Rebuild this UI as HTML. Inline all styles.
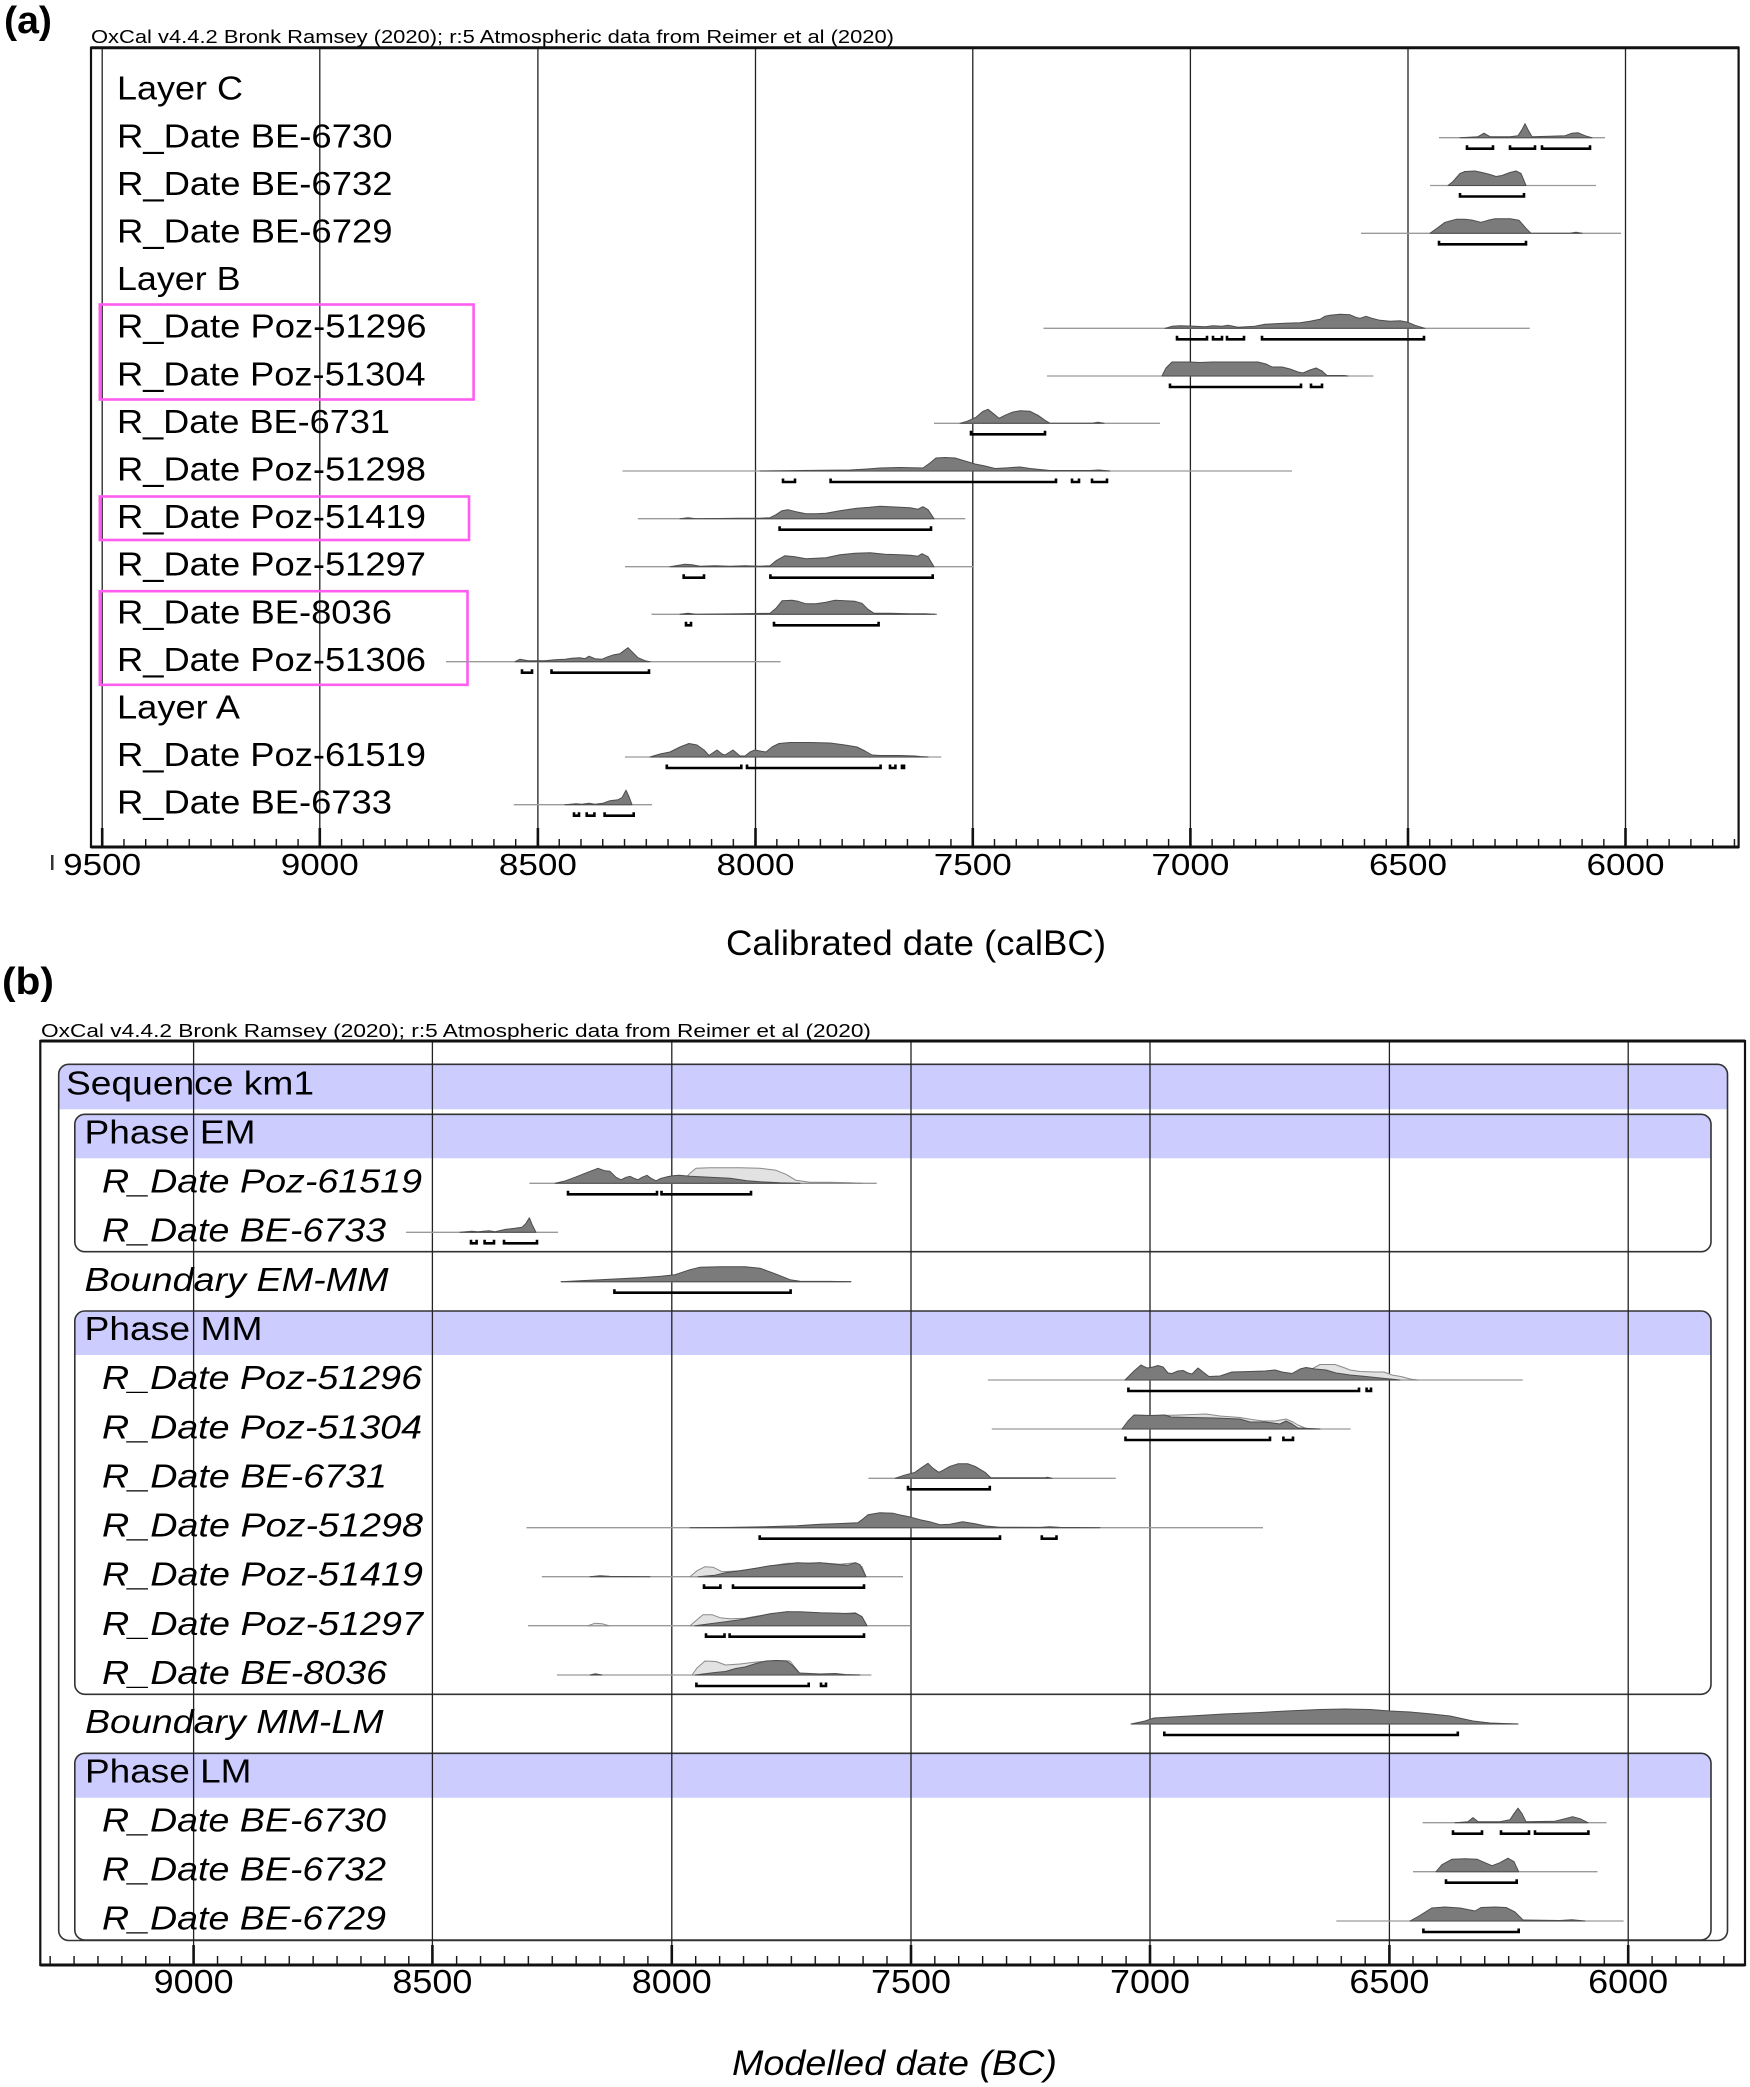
<!DOCTYPE html>
<html><head><meta charset="utf-8"><style>
html,body{margin:0;padding:0;background:#fff;}
svg{display:block;}
text{font-family:"Liberation Sans",Arial,sans-serif;fill:#000;}
.bl{stroke:#9a9a9a;stroke-width:1.3;fill:none}
.d{fill:#7b7b7b;stroke:#4d4d4d;stroke-width:1;stroke-linejoin:round}
.l{fill:#e2e2e2;stroke:#8a8a8a;stroke-width:1;stroke-linejoin:round}
.br{fill:none;stroke:#000;stroke-width:2.6}
.g{stroke:#222;stroke-width:1.3}
.mj{stroke:#111;stroke-width:2.6}
.la{font-size:33px}
.lb{font-size:33px}
.it{font-style:italic}
.pk{fill:none;stroke:#ff5cf0;stroke-width:2.6}
.bx{fill:none;stroke:#333;stroke-width:1.6}
.blue{fill:#ccccff}
</style></head><body>
<svg width="1750" height="2087" viewBox="0 0 1750 2087" xmlns="http://www.w3.org/2000/svg">
<defs>
<pattern id="ta" x="101.5" y="0" width="21.763" height="2087" patternUnits="userSpaceOnUse"><rect x="0" y="0" width="1.4" height="2087" fill="#111"/></pattern>
<pattern id="tb" x="192.9" y="0" width="23.91" height="2087" patternUnits="userSpaceOnUse"><rect x="0" y="0" width="1.4" height="2087" fill="#111"/></pattern>
</defs>

<!-- ================= PANEL A ================= -->
<text x="4" y="33" font-size="38" font-weight="bold" textLength="48" lengthAdjust="spacingAndGlyphs">(a)</text>
<text x="91" y="43" font-size="18" textLength="803" lengthAdjust="spacingAndGlyphs">OxCal v4.4.2 Bronk Ramsey (2020); r:5 Atmospheric data from Reimer et al (2020)</text>

<!-- grid lines -->
<g class="g">
<line x1="102.2" y1="48" x2="102.2" y2="847"/>
<line x1="319.8" y1="48" x2="319.8" y2="847"/>
<line x1="537.9" y1="48" x2="537.9" y2="847"/>
<line x1="755.5" y1="48" x2="755.5" y2="847"/>
<line x1="972.8" y1="48" x2="972.8" y2="847"/>
<line x1="1190.4" y1="48" x2="1190.4" y2="847"/>
<line x1="1408" y1="48" x2="1408" y2="847"/>
<line x1="1625.5" y1="48" x2="1625.5" y2="847"/>
</g>
<!-- ticks -->
<rect x="92" y="839" width="1646" height="8" fill="url(#ta)"/>
<g class="mj">
<line x1="102.2" y1="828" x2="102.2" y2="847"/>
<line x1="319.8" y1="828" x2="319.8" y2="847"/>
<line x1="537.9" y1="828" x2="537.9" y2="847"/>
<line x1="755.5" y1="828" x2="755.5" y2="847"/>
<line x1="972.8" y1="828" x2="972.8" y2="847"/>
<line x1="1190.4" y1="828" x2="1190.4" y2="847"/>
<line x1="1408" y1="828" x2="1408" y2="847"/>
<line x1="1625.5" y1="828" x2="1625.5" y2="847"/>
</g>
<!-- frame -->
<rect x="91" y="47.7" width="1647.6" height="799.3" fill="none" stroke="#111" stroke-width="2.2"/>
<line x1="91" y1="47.7" x2="1739" y2="47.7" stroke="#111" stroke-width="3"/>
<line x1="91" y1="847" x2="1739" y2="847" stroke="#111" stroke-width="3"/>

<!-- axis labels -->
<g font-size="31" text-anchor="middle">
<text x="102.2" y="875" textLength="78" lengthAdjust="spacingAndGlyphs">9500</text>
<text x="319.8" y="875" textLength="78" lengthAdjust="spacingAndGlyphs">9000</text>
<text x="537.9" y="875" textLength="78" lengthAdjust="spacingAndGlyphs">8500</text>
<text x="755.5" y="875" textLength="78" lengthAdjust="spacingAndGlyphs">8000</text>
<text x="972.8" y="875" textLength="78" lengthAdjust="spacingAndGlyphs">7500</text>
<text x="1190.4" y="875" textLength="78" lengthAdjust="spacingAndGlyphs">7000</text>
<text x="1408" y="875" textLength="78" lengthAdjust="spacingAndGlyphs">6500</text>
<text x="1625.5" y="875" textLength="78" lengthAdjust="spacingAndGlyphs">6000</text>
</g>
<rect x="51" y="855" width="2.5" height="15" fill="#333"/>
<text x="726" y="955" font-size="35" textLength="380" lengthAdjust="spacingAndGlyphs">Calibrated date (calBC)</text>

<!-- row labels A -->
<g class="la">
<text x="117" y="99.7" textLength="126" lengthAdjust="spacingAndGlyphs">Layer C</text>
<text x="117" y="147.3" textLength="275.5" lengthAdjust="spacingAndGlyphs">R_Date BE-6730</text>
<text x="117" y="194.9" textLength="275.5" lengthAdjust="spacingAndGlyphs">R_Date BE-6732</text>
<text x="117" y="242.5" textLength="275.5" lengthAdjust="spacingAndGlyphs">R_Date BE-6729</text>
<text x="117" y="290.1" textLength="123.5" lengthAdjust="spacingAndGlyphs">Layer B</text>
<text x="117" y="337.7" textLength="309.5" lengthAdjust="spacingAndGlyphs">R_Date Poz-51296</text>
<text x="117" y="385.3" textLength="308.5" lengthAdjust="spacingAndGlyphs">R_Date Poz-51304</text>
<text x="117" y="432.9" textLength="273" lengthAdjust="spacingAndGlyphs">R_Date BE-6731</text>
<text x="117" y="480.5" textLength="309" lengthAdjust="spacingAndGlyphs">R_Date Poz-51298</text>
<text x="117" y="528.1" textLength="309" lengthAdjust="spacingAndGlyphs">R_Date Poz-51419</text>
<text x="117" y="575.7" textLength="309" lengthAdjust="spacingAndGlyphs">R_Date Poz-51297</text>
<text x="117" y="623.3" textLength="275" lengthAdjust="spacingAndGlyphs">R_Date BE-8036</text>
<text x="117" y="670.9" textLength="309" lengthAdjust="spacingAndGlyphs">R_Date Poz-51306</text>
<text x="117" y="718.5" textLength="123" lengthAdjust="spacingAndGlyphs">Layer A</text>
<text x="117" y="766.1" textLength="309" lengthAdjust="spacingAndGlyphs">R_Date Poz-61519</text>
<text x="117" y="813.7" textLength="275" lengthAdjust="spacingAndGlyphs">R_Date BE-6733</text>
</g>

<!-- pink boxes -->
<rect class="pk" x="99.8" y="304.5" width="373.8" height="95"/>
<rect class="pk" x="99.8" y="496.5" width="369.2" height="43.5"/>
<rect class="pk" x="99.8" y="591.2" width="367.7" height="93.6"/>

<!-- distributions A -->
<g transform="translate(0,137.7)">
<line class="bl" x1="1439" y1="0" x2="1605" y2="0"/>
<path class="d" d="M1460,0 L1478,-1 1484,-4.5 1490,-1 1510,-1 1518,-2 1522,-8 1525,-14 1528,-8 1532,-1 1550,-1.5 1565,-2 1572,-4.5 1578,-5 1585,-2 1592,0 Z"/>
<path class="br" d="M1467,7.5 V11 H1493 V7.5 M1510,7.5 V11 H1535 V7.5 M1542,7.5 V11 H1590 V7.5"/>
</g>
<g transform="translate(0,185.5)">
<line class="bl" x1="1430" y1="0" x2="1596" y2="0"/>
<path class="d" d="M1448,0 L1453,-4 1460,-12 1465,-14 1475,-14.5 1482,-13 1490,-11 1496,-9 1502,-10 1510,-13 1516,-14.5 1521,-12 1526,0 Z"/>
<path class="br" d="M1460,7.5 V11 H1524 V7.5"/>
</g>
<g transform="translate(0,233.3)">
<line class="bl" x1="1361" y1="0" x2="1621" y2="0"/>
<path class="d" d="M1430,0 L1437,-5 1445,-11 1456,-14 1465,-14 1473,-13 1481,-11 1488,-13 1495,-14.5 1510,-14.5 1519,-13 1526,-5 1531,0 L1570,0 1576,-1 1582,0 Z"/>
<path class="br" d="M1439,7.5 V11 H1526 V7.5"/>
</g>
<g transform="translate(0,328.3)">
<line class="bl" x1="1043.5" y1="0" x2="1529.7" y2="0"/>
<path class="d" d="M1165,0 L1172,-2 1180,-2.5 1195,-2 1205,-1.5 1213,-2.5 1222,-2 1228,-3 1238,-1 1255,-2 1265,-4 1285,-5 1300,-5.5 1310,-7 1320,-9 1325,-12 1330,-13 1340,-14 1350,-13.5 1356,-11 1360,-10 1366,-12 1372,-10 1380,-8 1390,-7 1400,-7.5 1408,-6 1415,-3 1425,0 Z"/>
<path class="br" d="M1177,7.5 V11 H1207 V7.5 M1213,7.5 V11 H1222 V7.5 M1227,7.5 V11 H1244 V7.5 M1262,7.5 V11 H1424 V7.5"/>
</g>
<g transform="translate(0,376)">
<line class="bl" x1="1047" y1="0" x2="1373.5" y2="0"/>
<path class="d" d="M1162,0 L1166,-8 1172,-14 1190,-14 1200,-13.5 1212,-14 1240,-14 1258,-14 1266,-12 1272,-9 1282,-9 1290,-7 1298,-4 1303,-3 1310,-6 1316,-8 1322,-5 1327,-0.5 1344,-0.5 1348,0 Z"/>
<path class="br" d="M1170,7.5 V11 H1301 V7.5 M1311,7.5 V11 H1322 V7.5"/>
</g>
<g transform="translate(0,423.3)">
<line class="bl" x1="934" y1="0" x2="1160" y2="0"/>
<path class="d" d="M960,0 L967,-2 976,-6 983,-12 988,-14 993,-10 999,-5 1005,-8 1012,-11 1020,-12.5 1030,-12 1038,-8 1045,-3 1050,0 L1092,0 1098,-1 1104,0 Z"/>
<path class="br" d="M971,7.5 V11 H1045 V7.5"/>
</g>
<g transform="translate(0,471)">
<line class="bl" x1="622.4" y1="0" x2="1292" y2="0"/>
<path class="d" d="M760,0 L800,-0.5 850,-1 867,-2 880,-3 900,-3.5 923,-3 930,-8 936,-13 945,-13.5 955,-13 965,-10 975,-7 985,-5 995,-2.5 1005,-3 1012,-3.5 1020,-4 1030,-2.5 1050,-0.5 1090,-0.5 1099,-1 1110,0 Z"/>
<path class="br" d="M783,7.5 V11 H795 V7.5 M830.6,7.5 V11 H1056 V7.5 M1072,7.5 V11 H1079 V7.5 M1092,7.5 V11 H1107 V7.5"/>
</g>
<g transform="translate(0,518.7)">
<line class="bl" x1="637.8" y1="0" x2="965.3" y2="0"/>
<path class="d" d="M680,0 L688,-1 696,0 L740,-0.5 760,-0.5 770,-1 776,-4 782,-8 788,-9 796,-7 806,-5 816,-5 826,-5.5 840,-8 857,-10.5 870,-11.5 880,-12.5 890,-12 900,-11.5 910,-11 918,-9.5 923,-12 928,-9 934,0 Z"/>
<path class="br" d="M779.6,7.5 V11 H931 V7.5"/>
</g>
<g transform="translate(0,566.7)">
<line class="bl" x1="625" y1="0" x2="973" y2="0"/>
<path class="d" d="M670,0 L685,-2.5 692,-2 700,-0.5 715,-1 730,-0.5 745,-1 760,-0.5 770,-1 776,-6 785,-11 795,-10 806,-8 816,-8.5 826,-9 840,-12 855,-13.5 870,-14 885,-12.5 900,-12 910,-11.5 918,-10.5 922,-13 928,-10 934,0 Z"/>
<path class="br" d="M683.7,7.5 V11 H704 V7.5 M770.4,7.5 V11 H932.7 V7.5"/>
</g>
<g transform="translate(0,614.3)">
<line class="bl" x1="651.5" y1="0" x2="937" y2="0"/>
<path class="d" d="M680,0 L688,-1 696,0 L740,-0.5 770,-1 776,-6 782,-13.5 792,-14 798,-13 806,-10.5 816,-10.5 826,-12 835,-14 845,-13.5 855,-13 862,-11 868,-5 874,-1 890,-1 910,-0.5 925,-0.5 935,0 Z"/>
<path class="br" d="M686,7.5 V11 H691 V7.5 M774,7.5 V11 H878.6 V7.5"/>
</g>
<g transform="translate(0,661.7)">
<line class="bl" x1="446" y1="0" x2="780.6" y2="0"/>
<path class="d" d="M515,0 L520,-2.5 528,-1 545,-1 555,-2 565,-2.5 572,-3.5 580,-4 585,-3 589,-5.5 595,-3 602,-2.5 608,-5 614,-7 620,-8 624,-11 628,-14 632,-10 638,-4 645,-1 650,0 Z"/>
<path class="br" d="M522,7.5 V11 H532 V7.5 M551.5,7.5 V11 H649 V7.5"/>
</g>
<g transform="translate(0,757)">
<line class="bl" x1="625" y1="0" x2="941.3" y2="0"/>
<path class="d" d="M650,0 L660,-3 670,-5 680,-10 689,-13.5 697,-12 704,-7 709,-1.5 717,-7 722,-3 725,-2 733,-7 740,-1 745,-1 750,-5 755,-7 760,-6 766,-5 772,-10 779,-13.5 790,-14.5 810,-14.5 830,-14 845,-12 857,-10 865,-6 872,-2 880,-1.5 900,-1.5 915,-1 920,-0.5 928,0 Z"/>
<path class="br" d="M666.8,7.5 V11 H741.3 V7.5 M747,7.5 V11 H880.6 V7.5 M890,7.5 V11 H895.4 V7.5 M902,7.5 V11 H904 V7.5"/>
</g>
<g transform="translate(0,804.7)">
<line class="bl" x1="513.8" y1="0" x2="652" y2="0"/>
<path class="d" d="M565,0 L576,-1 582,-0.5 589,-1.5 595,-0.5 603,-1.5 610,-4 618,-5 622,-7 626,-14.5 629,-8 632,0 Z"/>
<path class="br" d="M574,7.5 V11 H579 V7.5 M586.7,7.5 V11 H594.4 V7.5 M604.6,7.5 V11 H633.7 V7.5"/>
</g>

<!-- ================= PANEL B ================= -->
<text x="2" y="994" font-size="38" font-weight="bold" textLength="52" lengthAdjust="spacingAndGlyphs">(b)</text>
<text x="41" y="1037" font-size="18" textLength="830" lengthAdjust="spacingAndGlyphs">OxCal v4.4.2 Bronk Ramsey (2020); r:5 Atmospheric data from Reimer et al (2020)</text>

<!-- blue bands -->
<path class="blue" d="M58.7,1109.3 V1074.3 Q58.7,1064.3 68.7,1064.3 H1717.5 Q1727.5,1064.3 1727.5,1074.3 V1109.3 Z"/>
<path class="blue" d="M74.8,1158.3 V1124.3 Q74.8,1114.3 84.8,1114.3 H1701 Q1711,1114.3 1711,1124.3 V1158.3 Z"/>
<path class="blue" d="M74.8,1355 V1321 Q74.8,1311 84.8,1311 H1701 Q1711,1311 1711,1321 V1355 Z"/>
<path class="blue" d="M74.8,1797.7 V1763.3 Q74.8,1753.3 84.8,1753.3 H1701 Q1711,1753.3 1711,1763.3 V1797.7 Z"/>
<!-- box outlines -->
<rect class="bx" x="58.7" y="1064.3" width="1668.8" height="876.2" rx="10" ry="10"/>
<rect class="bx" x="74.8" y="1114.3" width="1636.2" height="137.4" rx="10" ry="10"/>
<rect class="bx" x="74.8" y="1311" width="1636.2" height="383.3" rx="10" ry="10"/>
<rect class="bx" x="74.8" y="1753.3" width="1636.2" height="186.7" rx="10" ry="10"/>

<!-- grid lines B -->
<g class="g">
<line x1="193.6" y1="1041" x2="193.6" y2="1965"/>
<line x1="432.4" y1="1041" x2="432.4" y2="1965"/>
<line x1="671.8" y1="1041" x2="671.8" y2="1965"/>
<line x1="911" y1="1041" x2="911" y2="1965"/>
<line x1="1150" y1="1041" x2="1150" y2="1965"/>
<line x1="1389.4" y1="1041" x2="1389.4" y2="1965"/>
<line x1="1628.2" y1="1041" x2="1628.2" y2="1965"/>
</g>
<rect x="41" y="1956" width="1703" height="9" fill="url(#tb)"/>
<g class="mj">
<line x1="193.6" y1="1945" x2="193.6" y2="1965"/>
<line x1="432.4" y1="1945" x2="432.4" y2="1965"/>
<line x1="671.8" y1="1945" x2="671.8" y2="1965"/>
<line x1="911" y1="1945" x2="911" y2="1965"/>
<line x1="1150" y1="1945" x2="1150" y2="1965"/>
<line x1="1389.4" y1="1945" x2="1389.4" y2="1965"/>
<line x1="1628.2" y1="1945" x2="1628.2" y2="1965"/>
</g>
<rect x="40.3" y="1041" width="1704.7" height="924" fill="none" stroke="#111" stroke-width="2.2"/>
<line x1="40.3" y1="1041" x2="1745" y2="1041" stroke="#111" stroke-width="3"/>
<line x1="40.3" y1="1965" x2="1745" y2="1965" stroke="#111" stroke-width="3"/>

<g font-size="33" text-anchor="middle">
<text x="193.6" y="1993" textLength="80" lengthAdjust="spacingAndGlyphs">9000</text>
<text x="432.4" y="1993" textLength="80" lengthAdjust="spacingAndGlyphs">8500</text>
<text x="671.8" y="1993" textLength="80" lengthAdjust="spacingAndGlyphs">8000</text>
<text x="911" y="1993" textLength="80" lengthAdjust="spacingAndGlyphs">7500</text>
<text x="1150" y="1993" textLength="80" lengthAdjust="spacingAndGlyphs">7000</text>
<text x="1389.4" y="1993" textLength="80" lengthAdjust="spacingAndGlyphs">6500</text>
<text x="1628.2" y="1993" textLength="80" lengthAdjust="spacingAndGlyphs">6000</text>
</g>
<text x="732" y="2075" font-size="35" font-style="italic" textLength="325" lengthAdjust="spacingAndGlyphs">Modelled date (BC)</text>

<!-- row labels B -->
<g class="lb">
<text x="66" y="1094.3" textLength="248" lengthAdjust="spacingAndGlyphs">Sequence km1</text>
<text x="84.5" y="1143.4" textLength="171" lengthAdjust="spacingAndGlyphs">Phase EM</text>
<text class="it" x="102" y="1192.6" textLength="320" lengthAdjust="spacingAndGlyphs">R_Date Poz-61519</text>
<text class="it" x="102" y="1241.7" textLength="284" lengthAdjust="spacingAndGlyphs">R_Date BE-6733</text>
<text class="it" x="84.5" y="1290.9" textLength="304" lengthAdjust="spacingAndGlyphs">Boundary EM-MM</text>
<text x="84.5" y="1340" textLength="178" lengthAdjust="spacingAndGlyphs">Phase MM</text>
<text class="it" x="102" y="1389.1" textLength="320" lengthAdjust="spacingAndGlyphs">R_Date Poz-51296</text>
<text class="it" x="102" y="1438.3" textLength="320" lengthAdjust="spacingAndGlyphs">R_Date Poz-51304</text>
<text class="it" x="102" y="1487.4" textLength="285" lengthAdjust="spacingAndGlyphs">R_Date BE-6731</text>
<text class="it" x="102" y="1536.6" textLength="321" lengthAdjust="spacingAndGlyphs">R_Date Poz-51298</text>
<text class="it" x="102" y="1585.7" textLength="321" lengthAdjust="spacingAndGlyphs">R_Date Poz-51419</text>
<text class="it" x="102" y="1634.8" textLength="321" lengthAdjust="spacingAndGlyphs">R_Date Poz-51297</text>
<text class="it" x="102" y="1684" textLength="285" lengthAdjust="spacingAndGlyphs">R_Date BE-8036</text>
<text class="it" x="85" y="1733.1" textLength="298.5" lengthAdjust="spacingAndGlyphs">Boundary MM-LM</text>
<text x="85" y="1782.3" textLength="166.5" lengthAdjust="spacingAndGlyphs">Phase LM</text>
<text class="it" x="102" y="1831.4" textLength="284" lengthAdjust="spacingAndGlyphs">R_Date BE-6730</text>
<text class="it" x="102" y="1880.5" textLength="284" lengthAdjust="spacingAndGlyphs">R_Date BE-6732</text>
<text class="it" x="102" y="1929.7" textLength="284" lengthAdjust="spacingAndGlyphs">R_Date BE-6729</text>
</g>

<!-- distributions B -->
<g transform="translate(0,1183.3)">
<line class="bl" x1="529.4" y1="0" x2="876.7" y2="0"/>
<path class="l" d="M680,0 L690,-10 696,-15 710,-15.5 740,-15.5 760,-15 776,-13 786,-9 796,-3 810,-1 830,-1 850,-0.5 862,0 Z"/>
<path class="d" d="M555,0 L564,-2 575,-6 585,-10 598,-15 605,-12.5 610,-12 616,-6 621,-3.5 626,-6 630,-7 634,-5 638,-3.5 642,-6 647,-8 651,-5 656,-2.5 661,-5 667,-6.5 673,-7.5 679,-8 690,-7 710,-6 730,-5 747,-2.5 760,-1.5 780,-0.5 800,0 Z"/>
<path class="br" d="M568,7.5 V11 H657 V7.5 M661.5,7.5 V11 H751 V7.5"/>
</g>
<g transform="translate(0,1232.3)">
<line class="bl" x1="406" y1="0" x2="558" y2="0"/>
<path class="d" d="M460,0 L472,-1 478,-0.5 489,-1.5 495,-0.5 506,-3 515,-4 522,-5 526,-9 529.4,-14.5 532,-8 536,0 Z"/>
<path class="br" d="M471,7.5 V11 H476.6 V7.5 M484.6,7.5 V11 H494 V7.5 M504,7.5 V11 H537 V7.5"/>
</g>
<g transform="translate(0,1281.7)">
<line class="bl" x1="561" y1="0" x2="851" y2="0"/>
<path class="d" d="M561,0 L580,-1 600,-2 620,-3 640,-4 661,-5.5 675,-7 690,-12 700,-14.5 720,-15 745,-15 760,-13.5 775,-8 790,-2 800,-0.5 830,-0.3 851,0 Z"/>
<path class="br" d="M614.4,7.5 V11 H790.6 V7.5"/>
</g>
<g transform="translate(0,1380)">
<line class="bl" x1="987.8" y1="0" x2="1522.8" y2="0"/>
<path class="l" d="M1290,0 L1298,-6 1310,-10 1320,-15.5 1335,-15.5 1345,-12 1350,-10 1360,-8.5 1375,-8 1384,-8 1392,-5 1401,-3.5 1410,-1 1418,0 Z"/>
<path class="d" d="M1125,0 L1134,-9 1141,-15 1147,-12 1153,-13 1158,-14.5 1163,-13 1168,-7 1172,-6.5 1178,-9 1183,-9.5 1188,-7 1192,-6 1198,-12 1203,-8 1209,-3.5 1220,-4 1232,-8 1250,-8.5 1265,-9 1275,-10 1282,-8 1292,-6.5 1300,-11 1306,-12.5 1315,-11 1326,-10 1336,-7 1350,-5 1366,-3.5 1385,-1.5 1400,0 Z"/>
<path class="br" d="M1128.4,7.5 V11 H1359 V7.5 M1366.6,7.5 V11 H1371 V7.5"/>
</g>
<g transform="translate(0,1429)">
<line class="bl" x1="991.8" y1="0" x2="1350.6" y2="0"/>
<path class="l" d="M1160,0 L1163,-13.5 1180,-14 1206,-15 1220,-13 1240,-11.5 1252,-9.5 1263,-8 1275,-8 1286,-10 1293,-7 1298,-4 1305,-1 1310,0 Z"/>
<path class="d" d="M1122,0 L1128,-8 1134,-14 1150,-13.5 1165,-14 1171,-12 1190,-11.5 1215,-11 1240,-10 1250,-7 1265,-7 1280,-5 1286,-8 1292,-5 1298,-1 1310,-0.5 1320,0 Z"/>
<path class="br" d="M1125.5,7.5 V11 H1270 V7.5 M1283.4,7.5 V11 H1293 V7.5"/>
</g>
<g transform="translate(0,1478.3)">
<line class="bl" x1="868.4" y1="0" x2="1115.8" y2="0"/>
<path class="d" d="M895,0 L904,-3 915,-6 922,-11 928,-15 933,-10 938.8,-6 943,-8 950,-12 958,-14.5 968,-14.5 975,-12 985,-6 990.8,-0.5 1045,-0.5 1048,-1 1052,0 Z"/>
<path class="br" d="M908,7.5 V11 H989.8 V7.5"/>
</g>
<g transform="translate(0,1527.7)">
<line class="bl" x1="526.5" y1="0" x2="1263" y2="0"/>
<path class="d" d="M690,0 L730,-0.3 760,-0.8 797,-2 820,-3.5 835,-4 858,-5 862,-8 868,-13 880,-15 893,-14.5 899,-13 909,-11 920,-8 929.6,-6 940,-3 950,-3.5 962.7,-6 975,-4 985.7,-1.7 1000,-0.5 1040,-0.3 1049.5,-1 1060,-0.3 1100,0 Z"/>
<path class="br" d="M759.7,7.5 V11 H1000 V7.5 M1041.8,7.5 V11 H1056.5 V7.5"/>
</g>
<g transform="translate(0,1576.7)">
<line class="bl" x1="541.8" y1="0" x2="903" y2="0"/>
<path class="d" d="M590,0 L600,-1 610,-0.3 650,0 Z"/>
<path class="l" d="M690,0 L697,-6 705,-10 713,-9.5 722,-5 740,-6 756,-8.5 775,-11.5 787,-13.5 800,-13.5 820,-14 840,-12.5 855,-14 862,-10 866,0 Z"/>
<path class="d" d="M698,0 L715,-1.5 725.5,-4 740,-6 756,-8.5 770,-11 786.7,-12.5 797,-14 810,-13.5 820,-14 830,-13 840,-12 848,-11.5 855.6,-14 860,-12 866,0 Z"/>
<path class="br" d="M704,7.5 V11 H720.4 V7.5 M733,7.5 V11 H864 V7.5"/>
</g>
<g transform="translate(0,1625.7)">
<line class="bl" x1="528" y1="0" x2="910.7" y2="0"/>
<path class="l" d="M588,0 L595,-2.5 602,-2 609,0 Z"/>
<path class="l" d="M690,0 L697,-6 703,-11 712,-11 720,-8 730,-7 745,-7.5 756,-9.5 775,-12 786.7,-14 800,-13.5 820,-12.5 840,-12 855,-13 862,-9 867,0 Z"/>
<path class="d" d="M695,0 L710,-2 725.5,-4 740,-6 756,-9 770,-12 786.7,-14 800,-14 820,-13 840,-12.5 850,-12 855.6,-12.5 862,-9 867,0 Z"/>
<path class="br" d="M706,7.5 V11 H724.5 V7.5 M729.6,7.5 V11 H864 V7.5"/>
</g>
<g transform="translate(0,1675)">
<line class="bl" x1="557" y1="0" x2="871.4" y2="0"/>
<path class="d" d="M590,0 L595,-1.2 602,0 Z"/>
<path class="l" d="M692,0 L697,-7 705,-14 716,-13.5 725.5,-10 740,-11 756,-13 770,-14 776.5,-14.5 790,-14 799.5,-2 805,0 Z"/>
<path class="d" d="M695,0 L715,-2.5 725.5,-3.5 735.7,-6.5 745,-8 756,-11.5 766,-14 776.5,-14.5 786.7,-14 792,-10 799.5,-2 810,-1.5 820,-1 835,-1.5 845,-0.5 860,0 Z"/>
<path class="br" d="M696.4,7.5 V11 H808.7 V7.5 M821,7.5 V11 H826 V7.5"/>
</g>
<g transform="translate(0,1724)">
<line class="bl" x1="1131" y1="0" x2="1518" y2="0"/>
<path class="d" d="M1131,0 L1145,-3 1154,-6 1190,-8 1224,-10 1260,-11.5 1286.6,-13 1320,-14.5 1344.6,-15 1370,-14.5 1390,-13 1410,-12 1431.7,-10 1450,-8 1473,-3 1490,-1 1518,0 Z"/>
<path class="br" d="M1164.3,7.5 V11 H1457.8 V7.5"/>
</g>
<g transform="translate(0,1822.7)">
<line class="bl" x1="1422.6" y1="0" x2="1606.6" y2="0"/>
<path class="d" d="M1455,0 L1468,-1 1473,-5 1478,-1 1500,-1 1510,-3 1514,-9 1518,-14.5 1522,-9 1526,-1 1555,-1.5 1565,-4 1572.6,-6 1580,-4 1588,0 Z"/>
<path class="br" d="M1453,7.5 V11 H1482 V7.5 M1501,7.5 V11 H1529 V7.5 M1535,7.5 V11 H1588.4 V7.5"/>
</g>
<g transform="translate(0,1871.7)">
<line class="bl" x1="1413" y1="0" x2="1597.5" y2="0"/>
<path class="d" d="M1436,0 L1442,-7 1452,-12.5 1465,-13 1477,-12.5 1485,-9 1492,-6 1500,-9 1508,-13.5 1514,-10 1518.7,0 Z"/>
<path class="br" d="M1446,7.5 V11 H1516.7 V7.5"/>
</g>
<g transform="translate(0,1921)">
<line class="bl" x1="1336.3" y1="0" x2="1623.6" y2="0"/>
<path class="d" d="M1410,0 L1419,-5 1431.7,-13 1445,-14 1460,-13 1470,-11 1475,-10 1481,-13.5 1495,-14 1506,-13.5 1515,-9 1523,-1 1560,-0.5 1572,-1.2 1585,0 Z"/>
<path class="br" d="M1423.4,7.5 V11 H1518.7 V7.5"/>
</g>
</svg>
</body></html>
